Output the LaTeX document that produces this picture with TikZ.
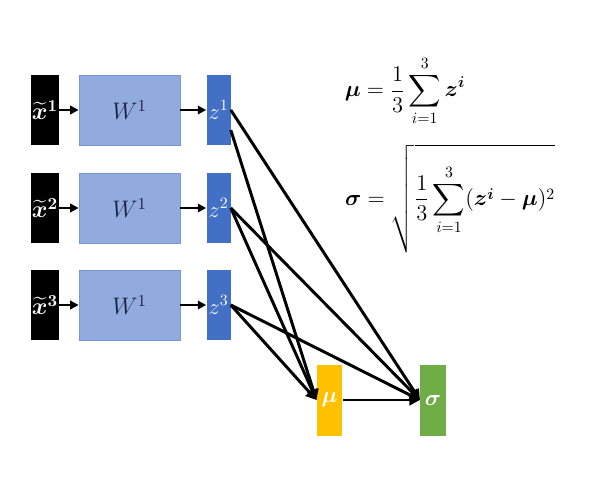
\RequirePackage{fix-cm}
\documentclass[tikz,border=0pt]{standalone}
\usepackage{amsmath, amssymb, bm}
\usetikzlibrary{arrows.meta}

\definecolor{wfill}{RGB}{146,171,222}
\definecolor{wline}{RGB}{122,150,210}
\definecolor{wtext}{RGB}{25,35,65}
\definecolor{zfill}{RGB}{66,112,196}
\definecolor{mufill}{RGB}{255,192,0}
\definecolor{sigfill}{RGB}{112,173,71}

\tikzset{
    xbox/.style={fill=black, text=white, inner sep=0pt, minimum width=0.7cm, minimum height=1.75cm, font=\fontsize{17}{19}\selectfont},
    wbox/.style={fill=wfill, draw=wline, line width=0.5pt, text=wtext, minimum width=2.525cm, minimum height=1.75cm, font=\fontsize{17}{19}\selectfont},
    zbox/.style={fill=zfill, text=white, inner sep=0pt, minimum width=0.6cm, minimum height=1.75cm, font=\fontsize{16}{18}\selectfont},
    outbox/.style={text=white, inner sep=0pt, minimum width=0.64cm, minimum height=1.775cm, font=\fontsize{16}{18}\selectfont},
    feed/.style={-{Triangle[length=6pt,width=6pt]}, line width=1.8pt},
    link/.style={-{Triangle[length=7.5pt,width=7.5pt]}, line width=2.1pt},
    formula/.style={inner sep=0pt, font=\fontsize{16}{19}\selectfont}
}

\begin{document}
\begin{tikzpicture}[x=0.25cm, y=-0.25cm]
    \useasboundingbox (0,0) rectangle (60,48);
    % first row
    \node[xbox] (x1) at (4.5,11) {$\bm{\widetilde{x}^{1}}$};
    \node[wbox] (w1) at (12.95,11) {$W^1$};
    \node[zbox] (z1) at (21.85,11) {$z^1$};
    % second row
    \node[xbox] (x2) at (4.5,20.8) {$\bm{\widetilde{x}^{2}}$};
    \node[wbox] (w2) at (12.95,20.8) {$W^1$};
    \node[zbox] (z2) at (21.85,20.8) {$z^2$};
    % third row
    \node[xbox] (x3) at (4.5,30.5) {$\bm{\widetilde{x}^{3}}$};
    \node[wbox] (w3) at (12.95,30.5) {$W^1$};
    \node[zbox] (z3) at (21.85,30.5) {$z^3$};
    % mean and deviation
    \node[outbox, fill=mufill] (mu) at (32.95,40) {$\bm{\mu}$};
    \node[outbox, fill=sigfill] (sigma) at (43.3,40) {$\bm{\sigma}$};
    \node[formula] (mueq) at (40.5,9.1) {$\displaystyle \bm{\mu} = \frac{1}{3}\sum_{i=1}^{3}\bm{z}^{\bm{i}}$};
    \node[formula] (sigeq) at (45,19.9) {$\displaystyle \bm{\sigma} = \sqrt{\frac{1}{3}\sum_{i=1}^{3}(\bm{z}^{\bm{i}}-\bm{\mu})^2\rule[-10.5mm]{0pt}{23mm}}$};
    \draw[feed] (x1) -- (w1);
    \draw[feed] (w1) -- (z1);
    \draw[feed] (x2) -- (w2);
    \draw[feed] (w2) -- (z2);
    \draw[feed] (x3) -- (w3);
    \draw[feed] (w3) -- (z3);
    \draw[link] (z1.east) -- (sigma.west);
    \draw[link] ([yshift=-5mm]z1.east) -- (mu.west);
    \draw[link] (z2.east) -- (mu.west);
    \draw[link] (z2.east) -- (sigma.west);
    \draw[link] (z3.east) -- (mu.west);
    \draw[link] (z3.east) -- (sigma.west);
    \draw[link] (mu) -- (sigma);
\end{tikzpicture}
\end{document}
